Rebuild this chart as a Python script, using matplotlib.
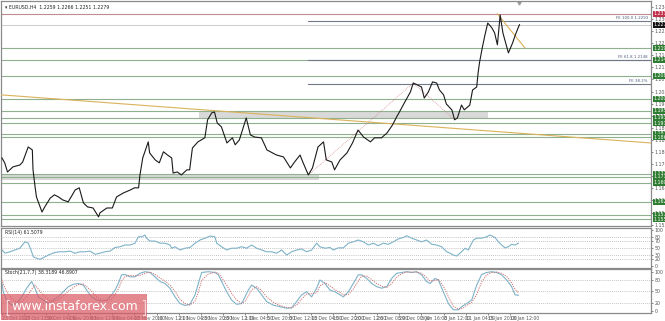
import matplotlib
matplotlib.use('Agg')
import matplotlib.pyplot as plt
from matplotlib.patches import Rectangle

# ---------------- data ----------------
title_text = "\u25be EURUSD,H4  1.2259 1.2266 1.2251 1.2279"
rsi_title = "RSI(14) 61.5079"
stoch_title = "Stoch(21,7,7) 38.3189 46.8907"

price_bars = [0, 2, 4, 8, 13, 15, 19, 22, 22.5, 24, 25, 29, 31, 35, 38, 41, 44, 48, 51, 53, 56, 59, 62, 66, 70, 71,
              76, 80, 83, 88, 93, 96, 99, 100, 102, 106, 107, 111, 114, 117, 120, 123, 124, 127, 130, 134, 136, 138,
              142, 147, 149, 152, 154, 156, 159, 163, 167, 169, 172, 175, 177, 180, 183, 188, 192, 196, 199, 204,
              209, 212, 216, 218, 222, 225, 229, 233, 235, 239, 241, 245, 250, 254, 258, 262, 267, 270, 275, 279,
              283, 286, 288, 292, 296, 298, 301, 304, 306, 309, 312, 315, 317, 320, 322, 326, 328, 330, 333, 335,
              339, 341, 344, 345, 346, 348, 350, 352, 355, 357, 359, 361, 363, 366, 367, 370, 372, 374, 375]
price_vals = [1.1783, 1.1765, 1.1731, 1.1750, 1.1757, 1.1768, 1.1824, 1.1813, 1.1739, 1.1675, 1.1638, 1.1582,
              1.1601, 1.1634, 1.1646, 1.1638, 1.1627, 1.1620, 1.1646, 1.1664, 1.1672, 1.1616, 1.1601, 1.1597,
              1.1564, 1.1579, 1.1597, 1.1597, 1.1638, 1.1653, 1.1664, 1.1672, 1.1672, 1.1720, 1.1783, 1.1843,
              1.1802, 1.1776, 1.1765, 1.1806, 1.1794, 1.1783, 1.1727, 1.1731, 1.1720, 1.1739, 1.1739, 1.1820,
              1.1843, 1.1858, 1.1925, 1.1951, 1.1954, 1.1913, 1.1899, 1.1839, 1.1858, 1.1832, 1.1850, 1.1899,
              1.1932, 1.1869, 1.1861, 1.1858, 1.1813, 1.1802, 1.1794, 1.1787, 1.1746, 1.1768, 1.1794, 1.1768,
              1.1720, 1.1746, 1.1824, 1.1843, 1.1776, 1.1768, 1.1739, 1.1776, 1.1802, 1.1839, 1.1887, 1.1861,
              1.1843, 1.1858, 1.1858, 1.1876, 1.1906, 1.1936, 1.1954, 1.1992, 1.2029, 1.2062, 1.2055, 1.2047,
              1.2006, 1.2029, 1.2066, 1.2062, 1.2036, 1.2018, 1.1984, 1.1962, 1.1925, 1.1932, 1.1980, 1.1962,
              1.1980, 1.2036, 1.2047, 1.2099, 1.2137, 1.2192, 1.2241, 1.2285, 1.2267, 1.2248, 1.2204, 1.2315,
              1.2248, 1.2192, 1.2174, 1.2211, 1.2241, 1.2267, 1.2279]

# horizontal support / resistance levels (green)
green_levels = [1.2192, 1.2148, 1.2088, 1.2003, 1.1958, 1.1932, 1.1913, 1.1873, 1.1861,
                1.1724, 1.1713, 1.1690, 1.1620, 1.1571, 1.1556]
red_level = 1.2319
last_price = 1.2279
fe_levels = [1.2293, 1.2148, 1.2059]
fe_labels = ["FE 100.0 1.2293", "FE 61.8 1.2148", "FE 38.2%"]
fe_start_bar = 222
light_levels = [1.2279, 1.2148]
zone_upper = (143, 352, 1.1928, 1.1958)     # bar0, bar1, low, high
zone_lower = (0, 230, 1.1701, 1.1724)
trend_long = ([-1, 470], [1.2018, 1.1839])
trend_short = ([359, 379], [1.2319, 1.2192])
fibo_pts = ([222, 298, 328], [1.1720, 1.2062, 1.1925])

price_ticks = [1.2345, 1.2300, 1.2255, 1.2210, 1.2165, 1.2120, 1.2075, 1.2030, 1.1985, 1.1940,
               1.1895, 1.1850, 1.1805, 1.1760, 1.1715, 1.1670, 1.1625, 1.1580, 1.1535]

rsi_bars = [0, 2.2, 5.8, 9.4, 13.0, 16.7, 19.1, 21.5, 22.7, 25.1, 27.5, 31.2, 34.8, 38.4, 42.0, 45.7, 49.3,
            52.9, 56.5, 60.1, 63.8, 67.4, 71.0, 74.6, 78.3, 81.9, 85.5, 89.1, 92.8, 96.4, 98.8, 101.2, 103.6,
            104.8, 107.2, 110.9, 114.5, 118.1, 121.7, 123.0, 125.4, 129.0, 132.6, 136.2, 139.9, 143.5, 147.1,
            150.7, 154.3, 155.6, 159.2, 162.8, 166.4, 170.0, 173.7, 177.3, 180.9, 184.5, 188.2, 191.8, 195.4,
            199.0, 202.7, 206.3, 209.9, 213.5, 217.1, 220.8, 224.4, 228.0, 230.4, 234.1, 237.7,
            240.1, 243.7, 247.4, 251, 254.6, 258.2, 261.9, 265.5, 269.1, 272.7, 276.3, 280, 283.6, 287.2,
            290.8, 293.3, 296.9, 300.5, 304.1, 307.7, 311.4, 315, 318.6, 322.2, 324.7, 327.1, 329.5, 331.9,
            334.3, 335.5, 337.9, 341.6, 344, 347.6, 351.2, 353.6, 357.3, 359.7, 362.1, 364.5, 366.9, 369.3,
            371.8, 374.2]
rsi_vals = [44, 35, 39, 44, 49, 67, 63, 39, 25, 21, 18, 25, 32, 37, 39, 39, 41, 35, 39, 39, 41, 32, 35, 39, 41,
            51, 53, 58, 58, 63, 81, 81, 86, 77, 69, 69, 63, 63, 58, 49, 53, 44, 49, 51, 63, 72, 77, 83, 81, 63,
            53, 44, 49, 49, 53, 49, 58, 49, 44, 39, 39, 35, 44, 30, 39, 44, 47, 39, 44, 63, 53, 49, 51,
            44, 50, 50, 63, 67, 72, 67, 58, 63, 56, 63, 60, 67, 75, 79, 84, 77, 72, 67, 72, 60, 58, 53, 39,
            35, 30, 27, 35, 44, 49, 44, 72, 77, 77, 81, 86, 79, 67, 58, 50, 53, 60, 58, 63]
rsi_levels = [80, 70, 50, 30, 20]
rsi_ticks = [100, 80, 70, 50, 30, 20, 0]

stoch_bars = [0, 1, 3.4, 7, 10.6, 14.3, 17.9, 21.5, 23.9, 26.3, 29.9, 33.6, 37.2, 40.8, 44.4, 48.1, 51.7, 55.3,
              58.9, 61.4, 65, 68.6, 72.2, 75.8, 79.5, 81.9, 84.3, 86.7, 89.1, 92.8, 96.4, 100, 103.6, 107.2,
              110.9, 114.5, 118.1, 121.7, 125.4, 129, 132.6, 136.2, 139.9, 142.3, 144.7, 149.5, 154.3, 156.8,
              159.2, 162.8, 166.4, 170, 173.7, 176.1, 178.5, 180.9, 184.5, 188.2, 191.8, 196.6, 201.4, 206.3,
              209.9, 213.5, 217.1, 220.8, 224.4, 228, 230.4, 234.1, 237.7,
              241.3, 245, 247.4, 251, 254.6, 258.2, 260.6, 264.3, 267.9, 271.5, 275.1, 278.8, 282.4, 286,
              289.6, 293.3, 296.9, 300.5, 304.1, 307.7, 310.2, 313.8, 316.2, 319.8, 323.5, 327.1, 330.7, 333.1,
              336.7, 340.4, 344, 347.6, 351.2, 354.8, 358.5, 362.1, 365.7, 369.3, 371.8, 374.2]
stoch_main = [70, 49, 28, 15, 19, 36, 58, 75, 58, 36, 28, 19, 28, 36, 49, 62, 68, 70, 66, 53, 36, 28, 25, 28,
              41, 53, 70, 92, 93, 87, 87, 96, 100, 98, 87, 75, 70, 58, 36, 19, 14, 17, 41, 70, 98, 100, 98, 92,
              75, 49, 28, 17, 19, 36, 53, 66, 58, 41, 24, 15, 11, 7, 8, 24, 41, 49, 36, 58, 79, 70, 53,
              49, 41, 36, 49, 70, 92, 92, 83, 70, 62, 58, 62, 83, 96, 98, 100, 98, 100, 92, 75, 70, 83, 79,
              49, 19, 3, 3, 11, 19, 28, 66, 93, 98, 100, 98, 92, 79, 62, 41, 40]
stoch_signal = [80, 68, 50, 32, 22, 24, 36, 55, 66, 56, 40, 28, 24, 28, 38, 50, 60, 67, 69, 62, 50, 36, 28, 26,
                30, 42, 56, 76, 88, 91, 89, 91, 96, 99, 93, 84, 76, 66, 50, 30, 19, 15, 25, 48, 78, 94, 99, 96,
                85, 66, 45, 28, 20, 24, 38, 54, 62, 52, 36, 22, 14, 9, 8, 15, 30, 43, 44, 46, 64, 72, 64,
                54, 47, 41, 42, 56, 76, 89, 89, 80, 70, 63, 60, 70, 86, 95, 99, 99, 99, 96, 85, 76, 78, 80,
                64, 36, 12, 5, 6, 14, 22, 42, 74, 92, 98, 99, 96, 88, 72, 55, 47]
stoch_levels = [80, 50, 20]
stoch_ticks = [100, 80, 50, 20, 0]

date_ticks = list(range(0, 369, 16))
date_labels = ["23 Oct 2017", "25 Oct 12:00", "30 Oct 04:00", "1 Nov 20:00", "6 Nov 12:00", "9 Nov 04:00",
               "13 Nov 20:00", "16 Nov 12:00", "21 Nov 04:00", "23 Nov 20:00", "28 Nov 12:00", "1 Dec 04:00",
               "5 Dec 20:00", "8 Dec 12:00", "13 Dec 04:00", "15 Dec 20:00", "20 Dec 12:00", "26 Dec 08:00",
               "29 Dec 00:00", "3 Jan 16:00", "8 Jan 12:00", "11 Jan 04:00", "15 Jan 20:00", "18 Jan 12:00"]

# ---------------- layout ----------------
W, H = 665, 321
fig = plt.figure(figsize=(W / 100, H / 100), dpi=100)
fig.patch.set_facecolor('white')


def ax_px(x0, y0, x1, y1):
    return fig.add_axes([x0 / W, 1 - y1 / H, (x1 - x0) / W, (y1 - y0) / H])


XLIM = (-0.7, 470.3)
FS = 3.4
spine_c = '#8a8a8a'
lvl_green = '#8fb08f'
box_green = '#2f7d32'


def style(ax):
    ax.set_xlim(*XLIM)
    ax.set_facecolor('white')
    for s in ax.spines.values():
        s.set_color(spine_c)
        s.set_linewidth(0.9)
    ax.yaxis.tick_right()
    ax.tick_params(axis='y', direction='out', length=1.5, width=0.5, colors='#555555',
                   labelsize=FS, pad=1)
    ax.tick_params(axis='x', length=0, labelbottom=False)


# ---- price panel ----
ax = ax_px(1, 1, 651, 226)
style(ax)
ax.set_ylim(1.1530, 1.2367)
ax.set_yticks(price_ticks)
ax.set_yticklabels([f"{v:.4f}" for v in price_ticks])

for (b0, b1, lo, hi) in [zone_upper, zone_lower]:
    ax.add_patch(Rectangle((b0, lo), b1 - b0, hi - lo, facecolor='#d9d9d9', edgecolor='none', zorder=1))

for lv in light_levels:
    ax.axhline(lv, color='#cccccc', lw=0.7, zorder=1.5)
for lv in green_levels:
    ax.axhline(lv, color=lvl_green, lw=0.8, zorder=2)
ax.axhline(red_level, color='#c08a8f', lw=0.8, zorder=2)
for lv, lab in zip(fe_levels, fe_labels):
    ax.plot([fe_start_bar, XLIM[1]], [lv, lv], color='#707a88', lw=0.8, zorder=2)
    ax.text(468, lv + 0.0003, lab, fontsize=2.8, color='#4a5a7a', ha='right', va='bottom', zorder=3)

ax.plot(trend_long[0], trend_long[1], color='#d9b25a', lw=0.8, zorder=3)
ax.plot(trend_short[0], trend_short[1], color='#d9b25a', lw=0.8, zorder=3)
ax.plot(fibo_pts[0], fibo_pts[1], color='#d07070', lw=0.5, ls=(0, (1, 1.5)), zorder=3)

ax.plot(price_bars, price_vals, color='#1a1a1a', lw=0.8, zorder=4)

ax.text(0.006, 0.985, title_text, transform=ax.transAxes, fontsize=3.3, color='#222222',
        ha='left', va='top')
ax.plot([375], [1.2360], marker='v', ms=2.2, color='#9a9a9a', clip_on=False)


def tag(axis, y, text, fc):
    axis.annotate(text, xy=(1.0, y), xycoords=('axes fraction', 'data'), xytext=(1.5, 0),
                  textcoords='offset points', fontsize=FS, color='white', ha='left', va='center',
                  bbox=dict(boxstyle='square,pad=0.12', fc=fc, ec='none'), annotation_clip=False, zorder=10)


for lv in green_levels:
    tag(ax, lv, f"{lv:.4f}", box_green)
tag(ax, red_level, f"{red_level:.4f}", '#c0304a')
tag(ax, last_price, f"{last_price:.4f}", '#111111')

# ---- RSI panel ----
ax2 = ax_px(1, 228, 651, 268)
style(ax2)
ax2.set_ylim(-6.4, 105.6)
ax2.set_yticks(rsi_ticks)
ax2.set_yticklabels([str(t) for t in rsi_ticks])
for lv in rsi_levels:
    ax2.axhline(lv, color='#b0b0b0', lw=0.6, ls=(0, (1, 1.5)))
ax2.plot(rsi_bars, rsi_vals, color='#7fb3c8', lw=0.8)
ax2.text(0.006, 0.95, rsi_title, transform=ax2.transAxes, fontsize=3.3, color='#222222',
         ha='left', va='top')

# ---- Stochastic panel ----
ax3 = ax_px(1, 269, 651, 313)
style(ax3)
ax3.set_ylim(-5.1, 106.9)
ax3.set_yticks(stoch_ticks)
ax3.set_yticklabels([str(t) for t in stoch_ticks])
for lv in stoch_levels:
    ax3.axhline(lv, color='#b0b0b0', lw=0.6, ls=(0, (1, 1.5)))
ax3.plot(stoch_bars, stoch_main, color='#7fb3c8', lw=0.8)
ax3.plot(stoch_bars, stoch_signal, color='#d07070', lw=0.7, ls=(0, (1.2, 1.2)))
ax3.text(0.006, 0.97, stoch_title, transform=ax3.transAxes, fontsize=3.3, color='#222222',
         ha='left', va='top')
ax3.set_xticks(date_ticks)
ax3.set_xticklabels(date_labels, fontsize=3.3, color='#333333', ha='left')
ax3.tick_params(axis='x', length=1.5, width=0.5, colors='#555555', labelbottom=True, pad=0.5,
                labelsize=3.3)

# ---- watermark ----
fig.patches.append(Rectangle((1 / W, 1 - 320 / H), 146 / W, 26 / H, transform=fig.transFigure,
                             facecolor=(0.86, 0.36, 0.40), alpha=0.72, edgecolor='none', zorder=20))
fig.text(4 / W, 1 - 308 / H, "[", fontsize=12, color='white', ha='left', va='center', zorder=21,
         fontweight='light')
fig.text(75 / W, 1 - 307 / H, "www.instaforex.com", fontsize=9, color='white', ha='center',
         va='center', zorder=21)
fig.text(140 / W, 1 - 308 / H, "]", fontsize=12, color='white', ha='left', va='center', zorder=21,
         fontweight='light')

fig.savefig('out.png', dpi=100, facecolor='white')
